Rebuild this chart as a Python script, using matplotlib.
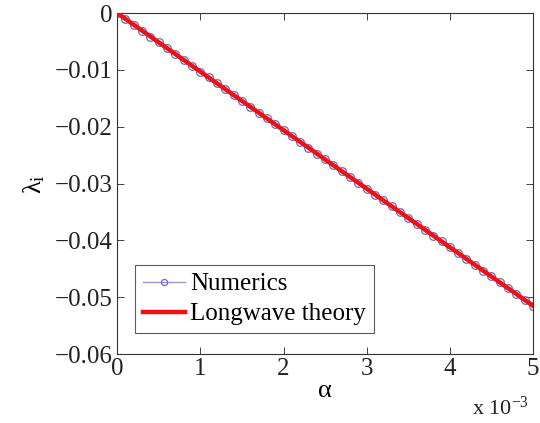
import numpy as np
import matplotlib
matplotlib.use("Agg")
from matplotlib import pyplot as plt

plt.rcParams['font.family'] = ['Liberation Serif', 'DejaVu Serif']
plt.rcParams['mathtext.fontset'] = 'custom'
plt.rcParams['mathtext.rm'] = 'Liberation Serif'
plt.rcParams['mathtext.it'] = 'Liberation Serif:italic'

# alpha values (units of 1e-3)
alpha = [0.0, 0.1, 0.2, 0.3, 0.4, 0.5, 0.6, 0.7, 0.8, 0.9,
         1.0, 1.1, 1.2, 1.3, 1.4, 1.5, 1.6, 1.7, 1.8, 1.9,
         2.0, 2.1, 2.2, 2.3, 2.4, 2.5, 2.6, 2.7, 2.8, 2.9,
         3.0, 3.1, 3.2, 3.3, 3.4, 3.5, 3.6, 3.7, 3.8, 3.9,
         4.0, 4.1, 4.2, 4.3, 4.4, 4.5, 4.6, 4.7, 4.8, 4.9, 5.0]

# numerical growth rate
lam_num = [0.0, -0.00103, -0.00206, -0.00309, -0.00412, -0.00515, -0.00618, -0.00721, -0.00824, -0.00927,
           -0.0103, -0.01133, -0.01236, -0.01339, -0.01442, -0.01545, -0.01648, -0.01751, -0.01854, -0.01957,
           -0.0206, -0.02163, -0.02266, -0.02369, -0.02472, -0.02575, -0.02678, -0.02781, -0.02884, -0.02987,
           -0.0309, -0.03193, -0.03296, -0.03399, -0.03502, -0.03605, -0.03708, -0.03811, -0.03914, -0.04017,
           -0.0412, -0.04223, -0.04326, -0.04429, -0.04532, -0.04635, -0.04738, -0.04841, -0.04944, -0.05047,
           -0.0515]

# longwave theory line
alpha_lw = [0.0, 5.0]
lam_lw = [0.0, -0.0515]

fig = plt.figure(figsize=(5.4, 4.23), dpi=100)
ax = fig.add_axes([0.217, 0.163, 0.770, 0.806])

ax.plot(alpha, lam_num, '-o', color='#9999d8', lw=1.0, ms=5.5,
        mfc='none', mec='#6a6ad0', mew=0.9, label='Numerics', zorder=2)
ax.plot(alpha_lw, lam_lw, '-', color='#ee1111', lw=3.2,
        label='Longwave theory', zorder=3)

ax.set_xlim(0, 5)
ax.set_ylim(-0.06, 0)
ax.set_xticks([0, 1, 2, 3, 4, 5])
ax.set_xticklabels(['0', '1', '2', '3', '4', '5'])
yt = [-0.06, -0.05, -0.04, -0.03, -0.02, -0.01, 0]
ax.set_yticks(yt)
ax.set_yticklabels(['\u22120.06', '\u22120.05', '\u22120.04', '\u22120.03',
                    '\u22120.02', '\u22120.01', '0'])
ax.tick_params(direction='in', top=True, right=True, length=5, width=0.6,
               labelsize=18, colors='#222222', pad=2)
ax.tick_params(axis='y', pad=3.5)
ax.tick_params(axis='x', pad=3)
for s in ax.spines.values():
    s.set_linewidth(0.8)
    s.set_color('#333333')

ax.set_xlabel('\u03b1', fontsize=19, labelpad=0)
ax.set_ylabel(r'$\mathrm{\lambda_i}$', fontsize=19, labelpad=5)
fig.text(0.98, 0.008, r'x 10$^{-3}$', ha='right', va='bottom', fontsize=16,
         color='#222222')

leg = ax.legend(loc='lower left', bbox_to_anchor=(0.044, 0.062), fontsize=18,
                frameon=True, fancybox=False, edgecolor='#333333',
                handlelength=1.7, borderpad=0.3, labelspacing=0.3,
                handletextpad=0.2, borderaxespad=0, markerscale=0.8)
leg.get_frame().set_linewidth(0.8)

fig.savefig('out.png', dpi=100)
